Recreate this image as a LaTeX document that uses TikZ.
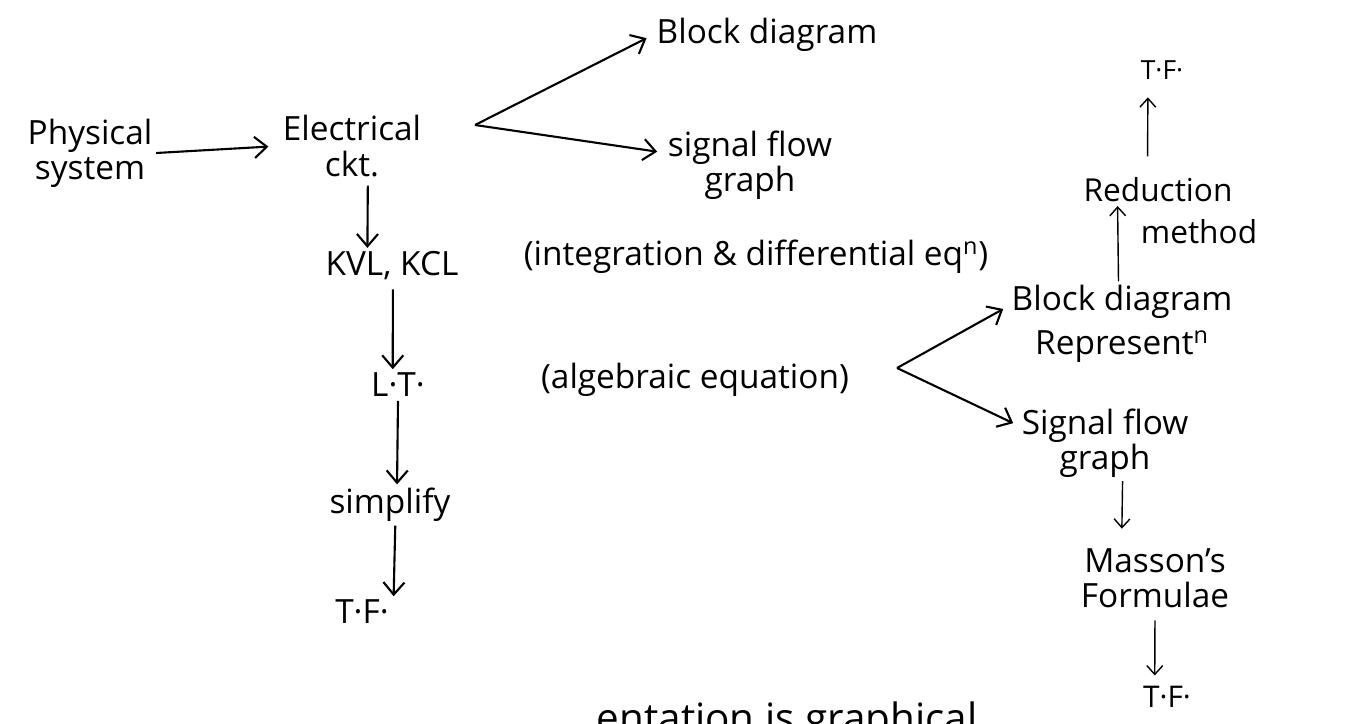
\documentclass[tikz,border=0pt]{standalone}
\usepackage{fontspec}
\setmainfont{Open Sans}
\usepackage{tikz}
\usetikzlibrary{arrows.meta,positioning}
\newcommand{\hand}{\fontsize{19}{20}\selectfont}
\newcommand{\handsm}{\fontsize{15}{17}\selectfont}

\begin{document}
\begin{tikzpicture}[
  x=0.02cm, y=-0.02cm,
  lbl/.style={align=center, inner sep=2pt, font=\hand},
  small/.style={lbl, font=\handsm},
  arr/.style={-{Straight Barb[length=7pt,width=12pt]}, line width=1.2pt},
  thinarr/.style={-{Straight Barb[length=5pt,width=9pt]}, line width=0.8pt}
]
\useasboundingbox (0,0) rectangle (1371,723);
% left chain
\node[lbl] (phys) at (90,153) {Physical\\system};
\node[lbl] (elec) at (352,146) {Electrical\\ckt.};
\node[lbl] (bdone) at (767,35) {Block diagram};
\node[lbl] (sfgone) at (750,165) {signal flow\\graph};
\node[lbl] (kvl) at (392,266) {KVL, KCL};
\node[lbl] (integ) at (756,257) {(integration \& differential eq\textsuperscript{n})};
\node[lbl] (lt) at (398,385) {L·T·};
\node[lbl] (alg) at (695,380) {(algebraic equation)};
\node[lbl] (simp) at (390,505) {simplify};
\node[lbl] (tfone) at (362,612) {T·F·};
% right chain
\node[lbl] (bdtwo) at (1122,324) {Block diagram\\[5pt]Represent\textsuperscript{n}};
\node[lbl, font=\fontsize{18}{20}\selectfont] (red) at (1158,190) {Reduction};
\node[lbl, font=\fontsize{18}{20}\selectfont] (redm) at (1199,232) {method};
\node[small] (tftwo) at (1162,70) {T·F·};
\node[lbl] (sfgtwo) at (1105,443) {Signal flow\\graph};
\node[lbl] (mason) at (1155,578) {Masson's\\Formulae};
\node[lbl, font=\fontsize{17}{19}\selectfont] (tfthree) at (1167,697) {T·F·};
\node[lbl, font=\fontsize{23}{26}\selectfont, anchor=base west] (note) at (593,732) {entation is graphical};
\coordinate (forkone) at (475,125);
\coordinate (forktwo) at (897,368);

\draw[arr, shorten >=6pt] (phys.east) -- (elec.west);
\draw[arr, shorten >=4pt] (forkone) -- (bdone.west);
\draw[arr, shorten >=4pt] (forkone) -- ([yshift=7pt]sfgone.west);
\draw[arr] ([xshift=9pt,yshift=-3pt]elec.south) -- ([xshift=-14pt]kvl.north);
\draw[arr] ([xshift=0.5pt,yshift=-3pt]kvl.south) -- ([xshift=-3pt]lt.north);
\draw[arr] (lt.south) -- ([xshift=4pt]simp.north);
\draw[arr] ([xshift=3pt]simp.south) -- ([xshift=18pt]tfone.north);
\draw[arr, shorten >=3pt] (forktwo) -- ([yshift=10pt]bdtwo.west);
\draw[arr, shorten >=3pt] (forktwo) -- ([yshift=10pt]sfgtwo.west);
\draw[thinarr] ([xshift=-2pt]bdtwo.north) -- ([xshift=-23pt]red.south);
\draw[thinarr, shorten <=10pt, shorten >=8pt] ([xshift=-6pt]red.north) -- ([xshift=-8pt]tftwo.south);
\draw[thinarr, shorten >=9pt] ([xshift=10pt]sfgtwo.south) -- ([xshift=-19pt]mason.north);
\draw[thinarr, shorten <=5pt, shorten >=4pt] (mason.south) -- ([xshift=-7pt]tfthree.north);
\end{tikzpicture}
\end{document}
